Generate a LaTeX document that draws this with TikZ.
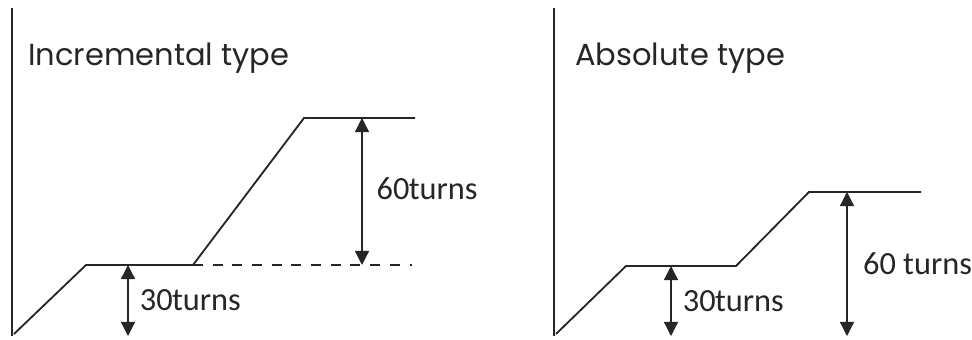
\documentclass[tikz,border=0pt]{standalone}
\usepackage{fontspec}
\setmainfont{Carlito}
\newfontfamily\titlefont{Poppins}
\usetikzlibrary{arrows.meta,positioning}

\begin{document}
\begin{tikzpicture}[x=0.025cm,y=-0.025cm,>={Triangle[length=10pt,width=10pt]},
  line cap=butt,line join=miter,
  axisline/.style={black!85,line width=1.3pt},
  profile/.style={black!85,line width=1.3pt},
  gap/.style={black!85,line width=0.9pt,<->},
  title/.style={font=\titlefont\fontsize{21.7}{25}\selectfont,text=black!85,anchor=base west,inner sep=0pt},
  turns/.style={font=\fontsize{23}{27}\selectfont,text=black!85,anchor=west,inner sep=0pt}]
 \useasboundingbox (0,0) rectangle (972,340);
 % incremental type
 \draw[axisline] (12,8)--(12,336);
 \node[title] (inctitle) at (28,66) {Incremental type};
 \coordinate (i0) at (14,334);
 \coordinate (i1) at (86,265);
 \coordinate (i2) at (193,265);
 \coordinate (i3) at (304,118);
 \coordinate (i4) at (415,118);
 \coordinate (idash) at (412,265);
 \coordinate (ibot) at (128,336);
 \draw[profile] (i0)--(i1)--(i2)--(i3)--(i4);
 \draw[black!85,line width=0.9pt,dash pattern=on 7pt off 7pt] (i2)--(idash);
 \draw[gap] (i1-|ibot)--(ibot) node[pos=.5,turns,right=8pt] (ithirty) {30\kern-0.5pt turns};
 \draw[gap] (i3-|362,0)--(i2-|362,0) node[pos=.48,turns,right=10pt] (isixty) {60\kern-0.5pt turns};
 % absolute type
 \draw[axisline] (554,8)--(554,336);
 \node[title] (abstitle) at (575,66) {Absolute type};
 \coordinate (a0) at (556,334);
 \coordinate (a1) at (626,266);
 \coordinate (a2) at (736,266);
 \coordinate (a3) at (809,192);
 \coordinate (a4) at (921,192);
 \coordinate (abot) at (671,336);
 \coordinate (abot2) at (847,336);
 \draw[profile] (a0)--(a1)--(a2)--(a3)--(a4);
 \draw[gap] (a1-|abot)--(abot) node[pos=.5,turns,right=8pt] (athirty) {30\kern-0.5pt turns};
 \draw[gap] (a3-|abot2)--(abot2) node[pos=.5,turns,right=11pt] (asixty) {60 turns};
\end{tikzpicture}
\end{document}
